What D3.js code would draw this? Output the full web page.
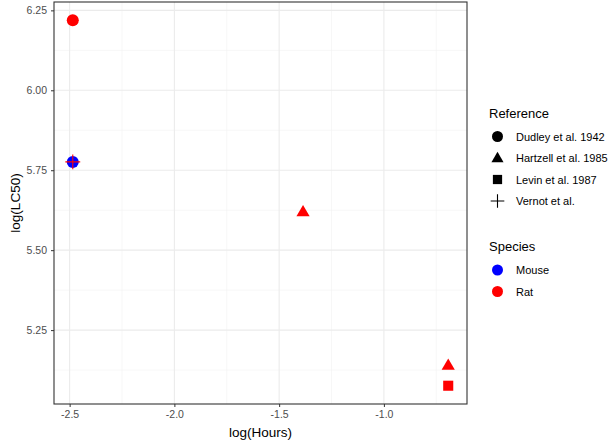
<!DOCTYPE html>
<html><head><meta charset="utf-8">
<script src="https://cdn.jsdelivr.net/npm/d3@7"></script>
<style>body{margin:0;background:#fff;} svg{display:block;font-family:"Liberation Sans",Arial,sans-serif;}</style>
</head><body>
<svg id="c" width="609" height="444"></svg>
<script>
const logHours = [-2.485, -2.485, -2.485, -1.386, -0.693, -0.693];
const logLC50 = [6.219, 5.776, 5.776, 5.620, 5.140, 5.076];
const species = ["Rat", "Mouse", "Rat", "Rat", "Rat", "Rat"];
const reference = ["Dudley et al. 1942", "Dudley et al. 1942", "Vernot et al.", "Hartzell et al. 1985", "Hartzell et al. 1985", "Levin et al. 1987"];
const refLevels = ["Dudley et al. 1942", "Hartzell et al. 1985", "Levin et al. 1987", "Vernot et al."];
const speciesLevels = ["Mouse", "Rat"];
const speciesColors = ["#0000FF", "#FF0000"];
const xTicks = [-2.5, -2.0, -1.5, -1.0];
const yTicks = [5.25, 5.50, 5.75, 6.00, 6.25];

const svg = d3.select("#c");
const L = 54, R = 467, T = 2, B = 404;
const xr = d3.extent(logHours), yr = d3.extent(logLC50);
const xp = (xr[1]-xr[0])*0.05, yp = (yr[1]-yr[0])*0.05;
const x = d3.scaleLinear().domain([xr[0]-xp, xr[1]+xp]).range([L, R]);
const y = d3.scaleLinear().domain([yr[0]-yp, yr[1]+yp]).range([B, T]);
const color = d3.scaleOrdinal().domain(speciesLevels).range(speciesColors);

const g = svg.append("g");
const xMinor = xTicks.slice(0,-1).map((d,i)=>(d+xTicks[i+1])/2).concat([xTicks[0]-0.25, xTicks[xTicks.length-1]+0.25]).filter(v=>v>x.domain()[0]&&v<x.domain()[1]);
const yMinor = yTicks.slice(0,-1).map((d,i)=>(d+yTicks[i+1])/2).concat([yTicks[0]-0.125, yTicks[yTicks.length-1]+0.125]).filter(v=>v>y.domain()[0]&&v<y.domain()[1]);
g.selectAll(".xm").data(xMinor).join("line").attr("x1",d=>x(d)).attr("x2",d=>x(d)).attr("y1",T).attr("y2",B).attr("stroke","#f2f2f2").attr("stroke-width",0.6);
g.selectAll(".ym").data(yMinor).join("line").attr("y1",d=>y(d)).attr("y2",d=>y(d)).attr("x1",L).attr("x2",R).attr("stroke","#f2f2f2").attr("stroke-width",0.6);
g.selectAll(".xg").data(xTicks).join("line").attr("x1",d=>x(d)).attr("x2",d=>x(d)).attr("y1",T).attr("y2",B).attr("stroke","#ebebeb").attr("stroke-width",1.1);
g.selectAll(".yg").data(yTicks).join("line").attr("y1",d=>y(d)).attr("y2",d=>y(d)).attr("x1",L).attr("x2",R).attr("stroke","#ebebeb").attr("stroke-width",1.1);

const fmtX = d => d3.format(".1f")(d).replace("\u2212","-");
const xAxis = svg.append("g").attr("transform",`translate(0,${B})`)
  .call(d3.axisBottom(x).tickValues(xTicks).tickFormat(fmtX).tickSize(3).tickPadding(4));
const yAxis = svg.append("g").attr("transform",`translate(${L},0)`)
  .call(d3.axisLeft(y).tickValues(yTicks).tickFormat(d3.format(".2f")).tickSize(3).tickPadding(4));
[xAxis,yAxis].forEach(a=>{
  a.select(".domain").remove();
  a.selectAll(".tick line").attr("stroke","#333333");
  a.selectAll(".tick text").attr("fill","#4d4d4d").style("font-size","10.5px").style("font-family","Liberation Sans, Arial, sans-serif");
});

svg.append("rect").attr("x",L).attr("y",T).attr("width",R-L).attr("height",B-T).attr("fill","none").attr("stroke","#333333").attr("stroke-width",1.1);

svg.append("text").attr("x",(L+R)/2).attr("y",437).attr("text-anchor","middle").style("font-size","13.5px").attr("fill","#000").text("log(Hours)");
svg.append("text").attr("transform",`translate(20,${(T+B)/2}) rotate(-90)`).attr("text-anchor","middle").style("font-size","13.5px").attr("fill","#000").text("log(LC50)");

function shapePath(ref, s){
  const i = refLevels.indexOf(ref);
  if(i===0) return d3.symbol(d3.symbolCircle, s*s*Math.PI/4)();
  if(i===1){ const h=s*0.9; return `M0,${-h*0.62}L${s*0.55},${h*0.42}L${-s*0.55},${h*0.42}Z`; }
  if(i===2){ const a=s*0.42; return `M${-a},${-a}H${a}V${a}H${-a}Z`; }
  const a=s*0.62; return `M${-a},0H${a}M0,${-a}V${a}`;
}
const data = logHours.map((d,i)=>({x:d,y:logLC50[i],sp:species[i],ref:reference[i]}));
svg.append("g").selectAll("path").data(data).join("path")
  .attr("transform",d=>`translate(${x(d.x)},${y(d.y)})`)
  .attr("d",d=>shapePath(d.ref,12))
  .attr("fill",d=>refLevels.indexOf(d.ref)===3?"none":color(d.sp))
  .attr("stroke",d=>refLevels.indexOf(d.ref)===3?color(d.sp):"none")
  .attr("stroke-width",1.1);

const lg = svg.append("g");
lg.append("text").attr("x",489).attr("y",118).style("font-size","13px").text("Reference");
refLevels.forEach((r,i)=>{
  const cy = 136.5 + i*21.5;
  lg.append("path").attr("transform",`translate(497.5,${cy})`).attr("d",shapePath(r,11))
    .attr("fill",i===3?"none":"#000").attr("stroke",i===3?"#000":"none").attr("stroke-width",1.1);
  lg.append("text").attr("x",516).attr("y",cy+4).style("font-size","11px").text(r);
});
lg.append("text").attr("x",489).attr("y",251).style("font-size","13px").text("Species");
speciesLevels.forEach((s,i)=>{
  const cy = 270 + i*21.5;
  lg.append("path").attr("transform",`translate(497.5,${cy})`).attr("d",shapePath(refLevels[0],11))
    .attr("fill",color(s));
  lg.append("text").attr("x",516).attr("y",cy+4).style("font-size","11px").text(s);
});
</script>
</body></html>
